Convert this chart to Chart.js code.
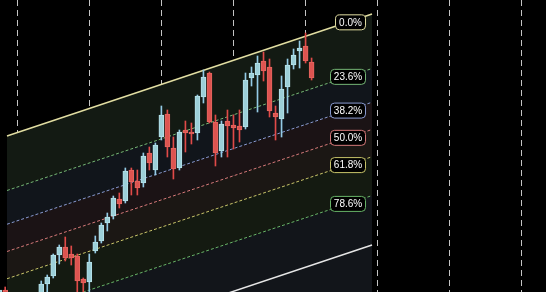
<!DOCTYPE html>
<html>
<head>
<meta charset="utf-8">
<script src="https://cdn.jsdelivr.net/npm/chart.js@4.4.1/dist/chart.umd.min.js"></script>
<style>
  html, body { margin: 0; padding: 0; background: #000; }
  #wrap { width: 546px; height: 292px; }
</style>
</head>
<body>
<div id="wrap"><canvas id="fibChart" width="546" height="292"></canvas></div>
<script>
// bar number of the first candle in the lists below (null = candle below the visible range)
const firstBar = -3;
const opens  = [-8, 2, null, null, null, null, null, -1, 8, 16, 37, 45, 38, 36, 13, 10, 41, 51, 69, 76, 93, 91, 122, 111, 109, 139, 122, 155, 178, 144, 124, 162, 160, 159, 195, 219, 170, 141, 171, 167, 166, 165, 214, 217, 231, 225, 179, 173, 205, 227, 241, 246, 230];
const highs  = [3, 5, null, null, null, null, null, 11, 17, 38, 47, 55, 46, 38, 14, 38, 56, 69, 79, 96, 99, 124, 124, 122, 139, 145, 149, 186, 182, 155, 162, 171, 169, 197, 222, 220, 177, 171, 182, 177, 182, 219, 225, 236, 240, 233, 186, 216, 233, 243, 251, 259, 234];
const lows   = [-12, -13, null, null, null, null, null, -4, 0, 14, 28, 31, 27, -3, -4, -4, 39, 49, 61, 73, 84, 89, 97, 97, 105, 122, 117, 152, 135, 113, 122, 140, 148, 152, 189, 169, 126, 135, 135, 143, 150, 163, 206, 180, 211, 175, 152, 155, 179, 223, 224, 229, 212];
const closes = [2, -8, null, null, null, null, null, 8, 15, 37, 45, 34, 34, 11, 9, 30, 50, 67, 75, 94, 88, 121, 110, 104, 136, 129, 147, 177, 145, 123, 160, 159, 158, 196, 215, 170, 139, 168, 166, 164, 162, 212, 219, 229, 221, 181, 175, 203, 227, 237, 244, 231, 214];

// fib channel: anchor line (0%) start / end, channel height in price units
const channelStart = { x: -1.7, y: 156 };
const channelEnd = { x: 59.06, y: 278 };
const channelHeight = 231;
const fibLevels = [0, 0.236, 0.382, 0.5, 0.618, 0.786, 1, 1.618];
const fibShowLabel = [true, true, true, true, true, true, false, false];

const lineColors = ['#e2dea2', '#76b876', '#8a9bd2', '#d67a7a', '#c9c56a', '#68b468', '#e6e6e6', 'rgba(0,0,0,0)'];
const bandColors = [null, '#131a13', '#11151b', '#1b1315', '#1b1714', '#141a11', '#12151a', '#12151a'];
const upBody = '#9ccfd8', upBorder = '#b6e2ea', upWick = '#94cbe6';
const downBody = '#dd5450', downBorder = '#e66660', downWick = '#e04a48';

const bars = opens.map((o, k) => firstBar + k);
const wickData = [], bodyData = [], wickCols = [], bodyCols = [], bodyBorders = [];
bars.forEach((b, k) => {
    if (opens[k] === null) return;
    const up = closes[k] >= opens[k];
    wickData.push({ x: b, y: [lows[k], highs[k]] });
    bodyData.push({ x: b, y: [opens[k], closes[k]] });
    wickCols.push(up ? upWick : downWick);
    bodyCols.push(up ? upBody : downBody);
    bodyBorders.push(up ? upBorder : downBorder);
});

const channelSets = fibLevels.map((f, k) => ({
    type: 'line',
    data: [
        { x: channelStart.x, y: channelStart.y - f * channelHeight },
        { x: channelEnd.x, y: channelEnd.y - f * channelHeight }
    ],
    borderColor: lineColors[k],
    borderWidth: (f === 0 || f === 1) ? 1.5 : 1,
    borderDash: (f === 0 || f === 1) ? [] : [3, 2],
    pointRadius: 0,
    fill: k === 0 ? false : '-1',
    backgroundColor: bandColors[k] || 'transparent'
}));

// level boxes at the right end of the channel
const fibLabels = {
    id: 'fibLabels',
    afterDatasetsDraw(chart) {
        const { ctx, scales: { x, y } } = chart;
        ctx.save();
        ctx.font = '10px "Liberation Sans", Arial, sans-serif';
        ctx.textBaseline = 'middle';
        ctx.textAlign = 'center';
        fibLevels.forEach((f, k) => {
            if (!fibShowLabel[k]) return;
            const right = x.getPixelForValue(channelEnd.x) - 7;
            const t = (x.getValueForPixel(right) - channelStart.x) / (channelEnd.x - channelStart.x);
            const v = channelStart.y + t * (channelEnd.y - channelStart.y) - f * channelHeight;
            const top = y.getPixelForValue(v) - 2;
            const text = (f * 100).toFixed(1) + '%';
            const w = Math.round(ctx.measureText(text).width) + 7;
            ctx.beginPath();
            ctx.roundRect(right - w + 0.5, top + 0.5, w, 15, 4);
            ctx.fillStyle = '#000';
            ctx.fill();
            ctx.strokeStyle = lineColors[k];
            ctx.lineWidth = 1;
            ctx.stroke();
            ctx.fillStyle = '#fff';
            ctx.fillText(text, right - w / 2 + 0.5, top + 8.5);
        });
        ctx.restore();
    }
};

new Chart(document.getElementById('fibChart'), {
    type: 'bar',
    data: {
        datasets: [
            {
                data: bodyData,
                backgroundColor: bodyCols,
                borderColor: bodyBorders,
                borderWidth: 1,
                borderSkipped: false,
                barThickness: 5,
                minBarLength: 1,
                grouped: false
            },
            {
                data: wickData,
                backgroundColor: wickCols,
                borderWidth: 0,
                barThickness: 1,
                grouped: false
            },
            ...channelSets
        ]
    },
    options: {
        responsive: false,
        animation: false,
        layout: { padding: 0 },
        plugins: {
            legend: { display: false },
            tooltip: { enabled: false }
        },
        scales: {
            x: {
                type: 'linear',
                min: -2.863,
                max: 88.02,
                offset: false,
                afterBuildTicks: (scale) => {
                    scale.ticks = scale.ticks.filter(t => t.value % 12 === 0);
                },
                ticks: { display: false, stepSize: 12, includeBounds: false },
                grid: { color: '#c4c4c4', lineWidth: 1, drawTicks: false, offset: false },
                border: { display: false, dash: [6, 4] }
            },
            y: {
                display: false,
                min: 0,
                max: 292
            }
        }
    },
    plugins: [fibLabels]
});
</script>
</body>
</html>
